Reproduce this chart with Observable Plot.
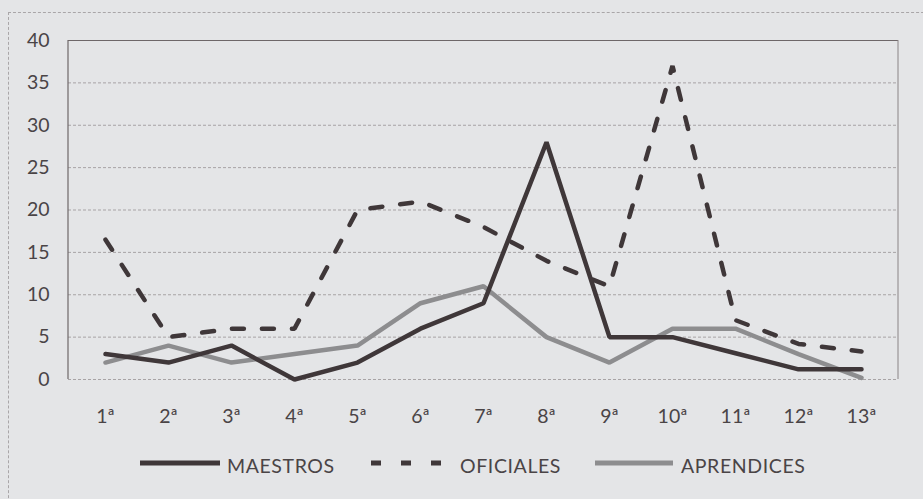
<!DOCTYPE html>
<html><head><meta charset="utf-8">
<script src="https://cdn.jsdelivr.net/npm/d3@7"></script>
<script src="https://cdn.jsdelivr.net/npm/@observablehq/plot@0.6"></script>
<style>
html,body{margin:0;padding:0;background:#e4e5e7;}
body{width:923px;height:499px;overflow:hidden;position:relative;font-family:Lato,"Liberation Sans",sans-serif;color:#4a4446;}
#frame{position:absolute;left:8px;top:12px;width:940px;height:520px;border-left:1px dashed #a9a6a8;border-top:1px dashed #a9a6a8;}
#chart{position:absolute;left:0;top:0;}
#legend{position:absolute;left:0;top:425px;width:923px;height:74px;}
</style></head>
<body>
<div id="frame"></div>
<div id="chart"></div>
<div id="legend"></div>
<script>
const categories = ["1ª","2ª","3ª","4ª","5ª","6ª","7ª","8ª","9ª","10ª","11ª","12ª","13ª"];
const maestros   = [3, 2, 4, 0, 2, 6, 9, 28, 5, 5, 3.1, 1.2, 1.2];
const oficiales  = [16.5, 5, 6, 6, 20, 21, 18, 14, 11, 37, 7, 4.2, 3.3];
const aprendices = [2, 4, 2, 3, 4, 9, 11, 5, 2, 6, 6, 3, 0.2];
const yTicks = [0, 5, 10, 15, 20, 25, 30, 35, 40];
const seriesNames = ["MAESTROS", "OFICIALES", "APRENDICES"];

const rows = s => categories.map((c, i) => ({cat: c, v: s[i]}));
const textColor = "#4a4446";
const dark = "#3f3739";
const grey = "#8d8d8f";
const font = "Lato, 'Liberation Sans', sans-serif";

const plot = Plot.plot({
  width: 923, height: 425,
  marginLeft: 68, marginRight: 25, marginTop: 40, marginBottom: 46,
  style: {background: "transparent", fontFamily: font, fontSize: "19.5px", color: textColor, overflow: "visible"},
  x: {type: "point", domain: categories, padding: 0.5, label: null},
  y: {domain: [0, 40], label: null},
  marks: [
    Plot.ruleY(yTicks.filter(t => t < 40), {y: d => d, stroke: "#a7a3a5", strokeWidth: 1, strokeDasharray: "3,2"}),
    Plot.ruleY([40], {stroke: "#6e6769", strokeWidth: 1.2}),
    Plot.axisY({ticks: yTicks, tickSize: 0, tickPadding: 19, fontSize: 19.5, fill: textColor, label: null}),
    Plot.axisX({tickSize: 0, tickPadding: 30, fontSize: 19.5, fill: textColor, label: null}),
    Plot.line(rows(oficiales), {x: "cat", y: "v", stroke: dark, strokeWidth: 4.5, strokeDasharray: "12,18", strokeLinejoin: "miter"}),
    Plot.line(rows(aprendices), {x: "cat", y: "v", stroke: grey, strokeWidth: 4.5, strokeLinejoin: "miter"}),
    Plot.line(rows(maestros), {x: "cat", y: "v", stroke: dark, strokeWidth: 4.5, strokeLinejoin: "miter"})
  ]
});
document.getElementById("chart").appendChild(plot);

// left and right borders of plot area
const svg = d3.select(plot);
svg.append("line").attr("x1", 68).attr("x2", 68).attr("y1", 40).attr("y2", 379).attr("stroke", "#6e6769").attr("stroke-width", 1.2);
svg.append("line").attr("x1", 898).attr("x2", 898).attr("y1", 40).attr("y2", 379).attr("stroke", "#8a8486").attr("stroke-width", 1);

// legend
const leg = d3.select("#legend").append("svg").attr("width", 923).attr("height", 74);
const items = [
  {name: seriesNames[0], x1: 140, x2: 220, tx: 227, color: dark, dash: null},
  {name: seriesNames[1], x1: 371, x2: 441, tx: 460, color: dark, dash: "10,20"},
  {name: seriesNames[2], x1: 595, x2: 673, tx: 681, color: grey, dash: null}
];
items.forEach(it => {
  leg.append("line").attr("x1", it.x1).attr("x2", it.x2).attr("y1", 38).attr("y2", 38)
    .attr("stroke", it.color).attr("stroke-width", 5).attr("stroke-dasharray", it.dash);
  leg.append("text").attr("x", it.tx).attr("y", 48).text(it.name)
    .attr("font-size", 19.5).attr("letter-spacing", "0.6px").attr("fill", textColor).attr("font-family", font);
});
</script>
</body></html>
